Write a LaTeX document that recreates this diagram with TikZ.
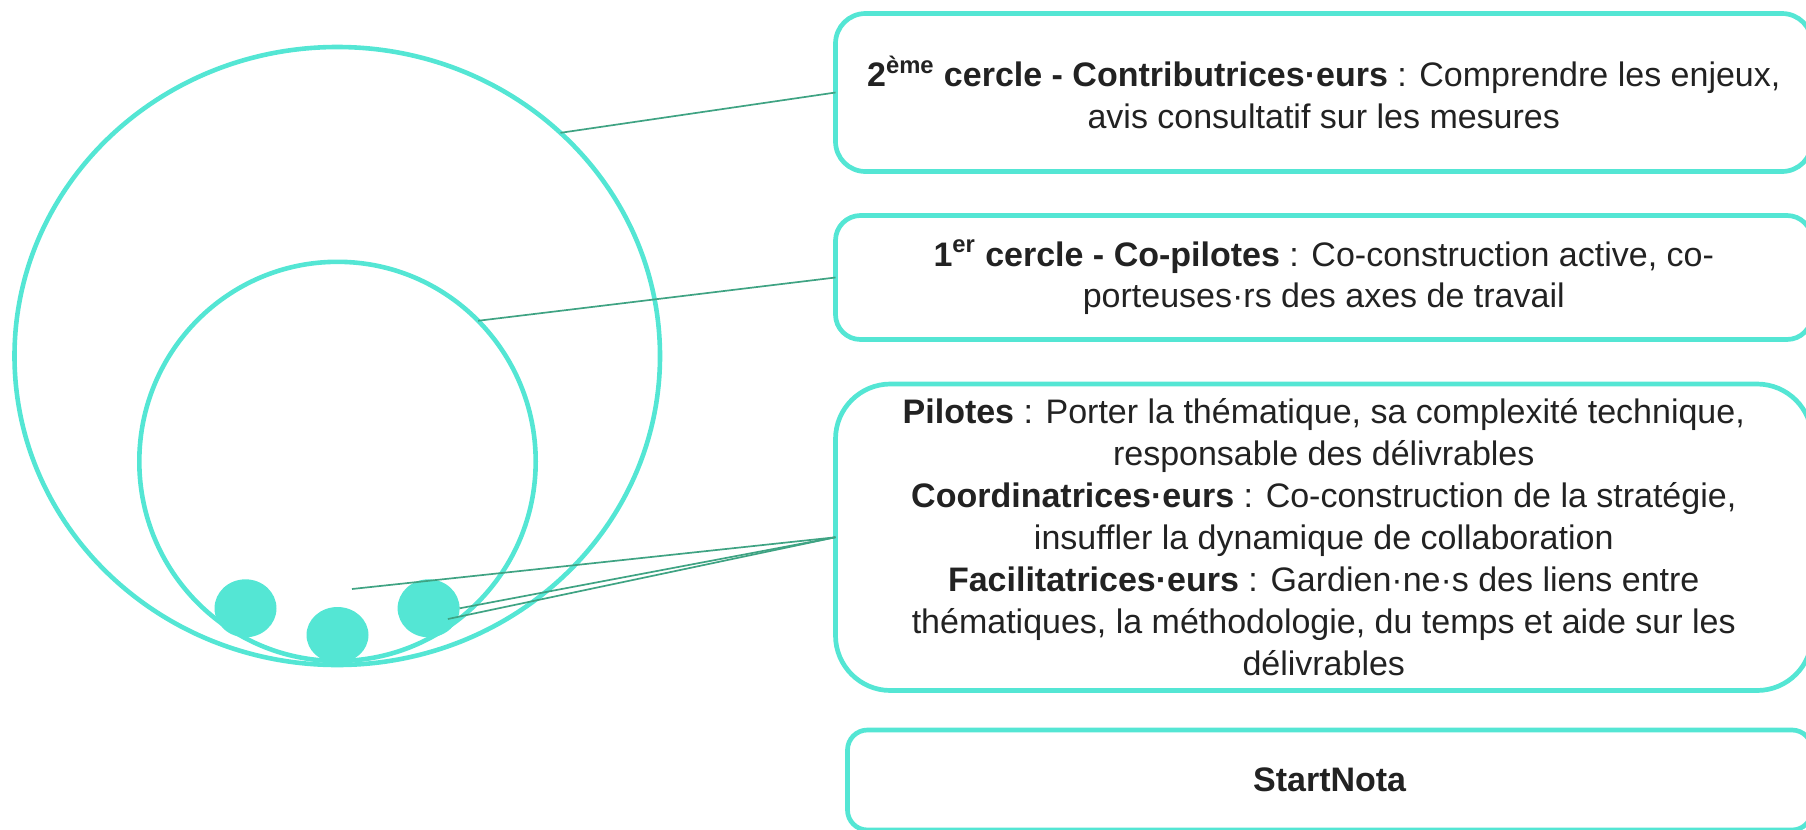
\documentclass[tikz,border=0pt]{standalone}
\usepackage{fontspec}
\setmainfont{Liberation Sans}
\usetikzlibrary{shapes.geometric}
\definecolor{turq}{HTML}{54E6D4}
\definecolor{link}{HTML}{3FA383}
\definecolor{txt}{HTML}{222222}
\begin{document}
\begin{tikzpicture}[x=0.02cm,y=-0.02cm,
  ring/.style={ellipse,draw=turq,line width=0.092cm,inner sep=0pt,outer sep=0pt},
  dot/.style={ellipse,fill=turq,inner sep=0pt,outer sep=0pt,minimum width={62*0.02cm},minimum height={58*0.02cm}},
  card/.style={draw=turq,line width=0.094cm,fill=white,inner sep=0pt,outer sep=0pt,
    align=center,text=txt,font=\fontsize{19.35pt}{23.85pt}\selectfont},
  conn/.style={draw=link,line width=0.034cm}]
\useasboundingbox (0,0) rectangle (1806,829);
% circles
\node[ring,minimum width={645.5*0.02cm},minimum height={618*0.02cm}] (outer) at (337.25,356) {};
\node[ring,minimum width={396.4*0.02cm},minimum height={399.2*0.02cm}] (inner) at (337.5,461.4) {};
\node[dot] (c1) at (245.5,608.3) {};
\node[dot,minimum height={56*0.02cm}] (c2) at (337.5,635) {};
\node[dot] (c3) at (428.6,608.3) {};
% cards
\node[card,rounded corners={30*0.02cm},minimum width={976.5*0.02cm},minimum height={158*0.02cm}] (b1) at (1323.75,92.5)
  {\textbf{2\textsuperscript{ème} cercle - Contributrices·eurs} : Comprendre les enjeux,\\avis consultatif sur les mesures};
\node[card,rounded corners={25*0.02cm},minimum width={976.5*0.02cm},minimum height={124*0.02cm}] (b2) at (1323.75,277.5)
  {\textbf{1\textsuperscript{er} cercle - Co-pilotes} : Co-construction active, co-\\porteuses·rs des axes de travail};
\node[card,rounded corners={55*0.02cm},minimum width={976.5*0.02cm},minimum height={306.5*0.02cm}] (b3) at (1323.75,537.25)
  {\textbf{Pilotes} : Porter la thématique, sa complexité technique,\\
   responsable des délivrables\\
   \textbf{Coordinatrices·eurs} : Co-construction de la stratégie,\\
   insuffler la dynamique de collaboration\\
   \textbf{Facilitatrices·eurs} : Gardien·ne·s des liens entre\\
   thématiques, la méthodologie, du temps et aide sur les\\
   délivrables};
\node[card,rounded corners={20*0.02cm},minimum width={964.5*0.02cm},minimum height={100*0.02cm}] (b4) at (1329.75,780)
  {\textbf{StartNota}};
% connectors
\coordinate (f1) at (352,589);
\coordinate (f2) at (447.9,619);
\draw[conn] (outer.45) -- (b1.west);
\draw[conn] (inner.45) -- (b2.west);
\draw[conn] (f1) -- (b3.west);
\draw[conn] (c3.east) -- (b3.west);
\draw[conn] (f2) -- (b3.west);
\end{tikzpicture}
\end{document}
